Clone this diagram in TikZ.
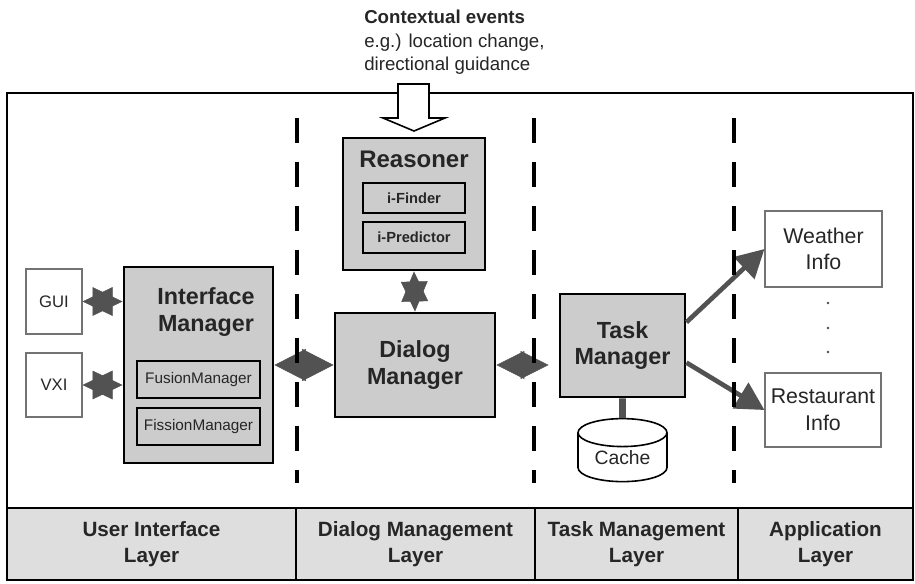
\documentclass[tikz,border=0pt]{standalone}
\usepackage{fontspec}
\setmainfont{Liberation Sans}
\usetikzlibrary{arrows.meta,shapes.geometric}

\definecolor{boxgray}{gray}{0.80}
\definecolor{bargray}{gray}{0.87}
\definecolor{linkgray}{gray}{0.32}

\tikzset{
  wh/.style 2 args={minimum width=#1*0.75pt, minimum height=#2*0.75pt},
  mgr/.style={draw, line width=2.2pt, fill=boxgray, inner sep=0pt},
  sub/.style={draw, line width=1.4pt, fill=boxgray, inner sep=0pt},
  ext/.style={draw=black!55, line width=0.8pt, fill=white, inner sep=0pt, align=center},
  title/.style={font=\fontsize{17.5}{20}\selectfont\bfseries, align=center, inner sep=0pt},
  layer/.style={draw, line width=2.2pt, fill=bargray, inner sep=0pt, align=center,
    font=\fontsize{15.5}{19}\selectfont\bfseries},
  twin/.style 2 args={draw=linkgray, line width=0.4pt,
    arrows={Triangle[length=#1,width=#2]-Triangle[length=#1,width=#2]}},
  feed/.style={draw=linkgray, line width=3.5pt, -{Triangle[length=21pt,width=22pt]}},
  sep/.style={line width=3pt, dash pattern=on 18.75pt off 14.25pt}
}

\begin{document}
\begin{tikzpicture}[x=0.75pt,y=-0.75pt, every node/.style={text=black!85}]
\useasboundingbox (0,0) rectangle (915,583);
\fill[white] (0,0) rectangle (915,583);

% outer frame
\draw[line width=2.2pt] (7,93) rectangle (913,580);

% incoming events
\node[anchor=north west, align=left, inner sep=0pt, font=\fontsize{14}{17.6}\selectfont]
  (ev) at (364,10) {\textbf{Contextual events}\\e.g.) location change,\\directional guidance};

% reasoner
\node[mgr, wh={142}{132}] (rs) at (414,204) {};
\node[title, anchor=base, font=\fontsize{18}{20}\selectfont\bfseries] (rstitle) at (414,167) {Reasoner};
\node[sub, wh={102}{30}, font=\fontsize{11}{13}\selectfont\bfseries] (rf) at (414,198) {i-Finder};
\node[sub, wh={102}{31}, font=\fontsize{11}{13}\selectfont\bfseries] (rp) at (414,237.5) {i-Predictor};

% fat arrow into the reasoner
\draw[line width=1.2pt, fill=white] (398,84) -- (429,84) -- (429,118) -- (445,118)
  -- (414,131) -- (383,118) -- (398,118) -- cycle;

% user interface side
\node[ext, wh={56}{65}, font=\fontsize{12.5}{15}\selectfont] (gui) at (54,301.5) {GUI};
\node[ext, wh={56}{64}, font=\fontsize{12.5}{15}\selectfont] (vxi) at (54,385) {VXI};
\node[mgr, wh={149}{196}] (im) at (198.5,365) {};
\node[title] (imtitle) at (206,312) {Interface\\Manager};
\node[sub, wh={123}{37}, font=\fontsize{11.5}{13}\selectfont] (fm) at (198.5,379.5) {FusionManager};
\node[sub, wh={123}{37}, font=\fontsize{11.5}{13}\selectfont] (fi) at (198.5,426.5) {FissionManager};

% dialog and task
\node[mgr, wh={160}{104}, title] (dm) at (415,365) {Dialog\\Manager};
\node[mgr, wh={125}{103}, title] (tm) at (622.5,345.5) {Task\\Manager};
\node[cylinder, shape border rotate=90, aspect=0.5, draw, line width=1.2pt, fill=white,
  wh={89}{63}, inner sep=0pt, font=\fontsize{14.5}{17}\selectfont] (ca) at (622.5,457.5) {Cache};

% applications
\node[ext, wh={117}{76}, font=\fontsize{16}{20}\selectfont] (wi) at (823.5,249) {Weather\\Info};
\node[ext, wh={116}{74}, font=\fontsize{16}{20}\selectfont] (ri) at (823,410) {Restaurant\\Info};
\foreach \y in {303,328,352}
  \fill[black!70] (828,\y) circle (1.1pt);

% links
\draw[twin={22.5pt}{21.5pt}] (gui.east) -- (gui.east -| im.west);
\draw[twin={22.5pt}{21.5pt}] (vxi.east) -- (vxi.east -| im.west);
\draw[twin={22.5pt}{20pt}] (rs.south) -- (dm.north);
\draw[twin={23.5pt}{24pt}] (im.east) -- (dm.west);
\draw[twin={21pt}{21pt}, shorten >=7.5pt] (dm.east) -- (dm.east -| tm.west);
\draw[line width=5pt, linkgray] (tm) -- (ca);
\draw[feed] (tm.20) -- (wi.west);
\draw[feed] (tm.-15) -- (ri.west);

% layer borders
\foreach \x in {297,534,734}
  \draw[sep] (\x,118) -- (\x,483);

% layer bar
\node[layer, wh={289}{72}] (ul) at (151.5,544) {User Interface\\Layer};
\node[layer, wh={239}{72}] (dl) at (415.5,544) {Dialog Management\\Layer};
\node[layer, wh={203}{72}] (tl) at (636.5,544) {Task Management\\Layer};
\node[layer, wh={175}{72}] (al) at (825.5,544) {Application\\Layer};
\end{tikzpicture}
\end{document}
